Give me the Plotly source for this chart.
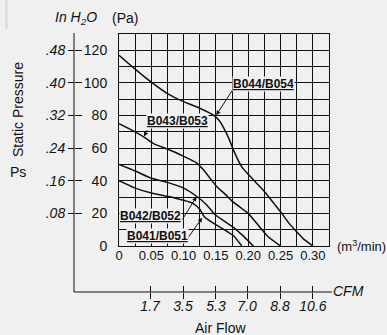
import plotly.graph_objects as go

# ---------------- data ----------------
flow_b041 = [0, 0.025, 0.05, 0.075, 0.10, 0.115, 0.125, 0.132, 0.148, 0.165, 0.178, 0.19]
pres_b041 = [40, 35.5, 32.5, 30.5, 28, 26, 22.5, 18, 13.5, 9.5, 6, 0]

flow_b042 = [0, 0.025, 0.05, 0.075, 0.10, 0.12, 0.135, 0.148, 0.16, 0.175, 0.19, 0.208]
pres_b042 = [50, 46, 41.5, 39, 35.5, 30.5, 25.5, 19.5, 16, 12, 7, 0]

flow_b043 = [0, 0.025, 0.04, 0.055, 0.075, 0.10, 0.12, 0.13, 0.14, 0.15, 0.165, 0.175, 0.19, 0.20, 0.215, 0.23, 0.25]
pres_b043 = [75, 70, 66.5, 62.5, 59.5, 55, 51, 47, 42, 37, 31.5, 27.5, 23, 20, 13, 6, 0]

flow_b044 = [0, 0.025, 0.05, 0.075, 0.10, 0.125, 0.145, 0.155, 0.162, 0.17, 0.178, 0.19, 0.20,
             0.213, 0.226, 0.24, 0.252, 0.262, 0.272, 0.285, 0.30]
pres_b044 = [117, 108.5, 100.5, 93.5, 88.5, 84.5, 80.5, 77, 72.5, 66, 58, 48.5, 44,
             38.5, 33, 26, 20, 14.5, 10, 4.5, 0]

series_names = ["B041/B051", "B042/B052", "B043/B053", "B044/B054"]

x_tick_vals = [0, 0.05, 0.10, 0.15, 0.20, 0.25, 0.30]
x_tick_text = ["0", "0.05", "0.10", "0.15", "0.20", "0.25", "0.30"]
pa_tick_vals = [0, 20, 40, 60, 80, 100, 120]
pa_tick_text = ["0", "20", "40", "60", "80", "100", "120"]
h2o_tick_vals = [20, 40, 60, 80, 100, 120]
h2o_tick_text = [".08", ".16", ".24", ".32", ".40", ".48"]
cfm_values = [1.7, 3.5, 5.3, 7.0, 8.8, 10.6]
cfm_tick_text = ["1.7", "3.5", "5.3", "7.0", "8.8", "10.6"]

CFM_PER_M3MIN = 35.3147
cfm_positions = [c / CFM_PER_M3MIN for c in cfm_values]

# ---------------- layout helpers ----------------
W, H = 387, 335
ML, MR, MT, MB = 74, 58, 34, 43
PW, PH = W - ML - MR, H - MT - MB
FONT = "Liberation Sans, Arial, Helvetica, sans-serif"
BG = "#f0f0f0"
INK = "#111111"


def px(xp):
    return (xp - ML) / PW


def py(yp):
    return (H - MB - yp) / PH


x_dom = [px(119), 1]
y_dom = [py(246), 1]
XR = [0, 0.325]
YR = [0, 130]

fig = go.Figure()

for q, p in [(flow_b041, pres_b041), (flow_b042, pres_b042),
             (flow_b043, pres_b043), (flow_b044, pres_b044)]:
    fig.add_trace(go.Scatter(
        x=q, y=p, mode="lines",
        line=dict(color=INK, width=1.5, shape="spline", smoothing=0.5),
        hoverinfo="skip", showlegend=False))

# empty traces so that the extra axes are drawn
for xa, ya in [("x", "y2"), ("x", "y3"), ("x2", "y"), ("x3", "y")]:
    fig.add_trace(go.Scatter(x=[], y=[], xaxis=xa, yaxis=ya,
                             showlegend=False, hoverinfo="skip"))

grid = dict(showgrid=True, gridcolor=INK, gridwidth=1)

fig.update_layout(
    width=W, height=H,
    margin=dict(l=ML, r=MR, t=MT, b=MB, pad=0),
    paper_bgcolor=BG, plot_bgcolor=BG,
    font=dict(family=FONT, color=INK, size=13),
    xaxis=dict(domain=x_dom, range=XR, tickmode="array", tickvals=x_tick_vals,
               ticktext=x_tick_text, ticks="", zeroline=False,
               showline=True, mirror=True, linecolor=INK, linewidth=1,
               ticklabelstandoff=-3, tickfont=dict(size=13), **grid,
               minor=dict(tickmode="linear", tick0=0, dtick=0.025, ticks="",
                          showgrid=True, gridcolor=INK, gridwidth=1)),
    yaxis=dict(domain=y_dom, range=YR, tickmode="array", tickvals=pa_tick_vals,
               ticktext=pa_tick_text, ticks="", zeroline=False,
               showline=True, mirror=True, linecolor=INK, linewidth=1,
               ticklabelstandoff=8, tickfont=dict(size=14), **grid,
               minor=dict(tickmode="linear", tick0=0, dtick=10, ticks="",
                          showgrid=True, gridcolor=INK, gridwidth=1)),
    yaxis2=dict(overlaying="y", anchor="free", position=0, side="left",
                range=YR, tickmode="array", tickvals=h2o_tick_vals,
                ticktext=h2o_tick_text, ticks="outside", ticklen=6,
                tickcolor=INK, tickwidth=1, showgrid=False, zeroline=False,
                showline=False, tickfont=dict(size=14, style="italic")),
    yaxis3=dict(overlaying="y", anchor="free", position=0, side="right",
                range=YR, tickmode="array", tickvals=h2o_tick_vals,
                ticks="outside", ticklen=7, tickcolor=INK, tickwidth=1,
                showticklabels=False, showgrid=False, zeroline=False,
                showline=False),
    xaxis2=dict(overlaying="x", anchor="free", position=0, side="bottom",
                range=XR, tickmode="array", tickvals=cfm_positions,
                ticktext=cfm_tick_text, ticks="outside", ticklen=6,
                tickcolor=INK, tickwidth=1, showgrid=False, zeroline=False,
                showline=False, ticklabelstandoff=-5,
                tickfont=dict(size=14, style="italic")),
    xaxis3=dict(overlaying="x", anchor="free", position=0, side="top",
                range=XR, tickmode="array", tickvals=cfm_positions,
                ticks="outside", ticklen=6, tickcolor=INK, tickwidth=1,
                showticklabels=False, showgrid=False, zeroline=False,
                showline=False),
)

# axis lines of the outer scales
fig.add_shape(type="line", xref="paper", yref="paper",
              x0=px(74), x1=px(74), y0=py(292), y1=py(33),
              line=dict(color=INK, width=1))
fig.add_shape(type="line", xref="paper", yref="paper",
              x0=px(74), x1=px(332), y0=py(292), y1=py(292),
              line=dict(color=INK, width=1))
fig.add_shape(type="line", xref="paper", yref="paper",
              x0=px(6.5), x1=px(6.5), y0=py(0), y1=py(29),
              line=dict(color="#d9d9d9", width=2))


def txt(text, xp, yp, size=14, angle=0):
    fig.add_annotation(text=text, xref="paper", yref="paper",
                       x=px(xp), y=py(yp), xanchor="center", yanchor="middle",
                       showarrow=False, textangle=angle,
                       font=dict(size=size, family=FONT, color=INK))


txt("<i>In H<sub>2</sub>O</i>", 76, 17.5)
txt("(Pa)", 124.5, 17.5)
txt("Static Pressure", 18, 110, angle=-90)
txt("Ps", 18.3, 171.5)
txt("(m<sup>3</sup>/min)", 361, 246, size=13)
txt("<i>CFM</i>", 348, 291)
txt("Air Flow", 220, 327.5)

# series labels with leader arrows (label centre, leader tail, leader head)
label_specs = [
    (series_names[3], (0.2239, 99.6), (0.1767, 96.3), (0.1505, 80.2)),
    (series_names[2], (0.0910, 76.8), (0.0449, 72.0), (0.0387, 67.2)),
    (series_names[1], (0.0491, 18.3), (0.0967, 15.4), (0.1200, 30.2)),
    (series_names[0], (0.0592, 5.9), (0.1044, 3.7), (0.1287, 17.3)),
]
for name, (lx, ly), (tx, ty), (hx, hy) in label_specs:
    fig.add_annotation(x=hx, y=hy, xref="x", yref="y", ax=tx, ay=ty,
                       axref="x", ayref="y", text="", showarrow=True,
                       arrowhead=2, arrowsize=0.9, arrowwidth=1,
                       arrowcolor=INK, standoff=0, startstandoff=0)
    fig.add_annotation(x=lx, y=ly, xref="x", yref="y", showarrow=False,
                       text="<b><u>" + name + "</u></b>", bgcolor=BG,
                       borderpad=0, xanchor="center", yanchor="middle",
                       font=dict(size=12, family=FONT, color=INK))

fig.write_html("out.html", config={"displayModeBar": False},
               post_script="document.body.style.margin='0px';")
